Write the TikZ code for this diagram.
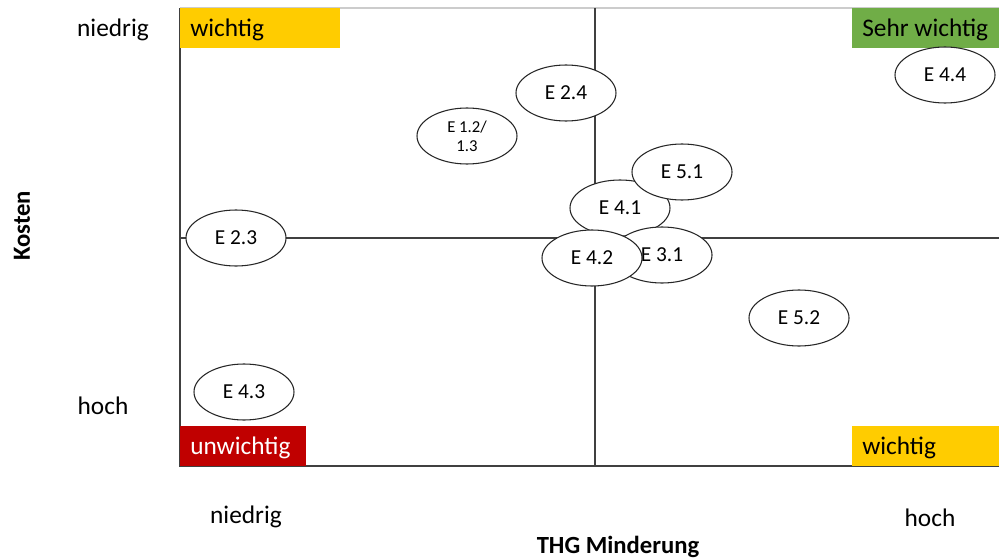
\documentclass[tikz,border=0pt]{standalone}
\usepackage{fontspec}
\setmainfont{Carlito}
\usetikzlibrary{shapes.geometric}
\definecolor{tagyellow}{HTML}{FFCC00}
\definecolor{taggreen}{HTML}{70AD47}
\definecolor{tagred}{HTML}{C00000}
\newcommand{\tagtext}[2]{\makebox[#1][l]{#2}}
\tikzset{
    measure/.style={
        ellipse,
        draw=black!85,
        line width=0.8pt,
        fill=white,
        minimum width=75pt,
        minimum height=42pt,
        inner sep=0pt,
        font=\fontsize{16}{18}\selectfont
    },
    tag/.style={
        anchor=north west,
        minimum height=30pt,
        inner xsep=7.5pt,
        inner ysep=0pt,
        text height=13pt,
        text depth=1pt,
        font=\fontsize{19}{22}\selectfont
    },
    axis line/.style={
        draw=black!75,
        line width=1pt
    },
    frame top/.style={
        draw=black!20,
        line width=1pt
    }
}

\begin{document}
\begin{tikzpicture}[x=0.75pt, y=-0.75pt,
                    label node/.style={font=\fontsize{19}{22}\selectfont},
                    title node/.style={font=\bfseries\fontsize{18.5}{21}\selectfont}]
                    \useasboundingbox (0,0) rectangle (999,560);
                    % frame and quadrant lines
                    \coordinate (tl) at (180,8);
                    \coordinate (tr) at (999,8);
                    \coordinate (bl) at (180,466);
                    \coordinate (br) at (999,466);
                    \coordinate (tm) at (595,8);
                    \coordinate (bm) at (595,466);
                    \coordinate (ml) at (180,238);
                    \coordinate (mr) at (999,238);
                    \draw[frame top] (tl) -- (tr);
                    \draw[axis line] (tl) -- (bl) -- (br);
                    \draw[axis line] (tm) -- (bm);
                    \draw[axis line] (ml) -- (mr);

                    % quadrant tags
                    \node[tag, fill=tagyellow] (qtl) at (180,8) {\tagtext{105pt}{wichtig}};
                    \node[tag, fill=taggreen] (qtr) at (852,8) {\tagtext{95pt}{Sehr wichtig}};
                    \node[tag, fill=tagred, text=white] (qbl) at (180,426) {\tagtext{79.5pt}{unwichtig}};
                    \node[tag, fill=tagyellow] (qbr) at (852,426) {\tagtext{95pt}{wichtig}};

                    % measures
                    \node[measure] (e24) at (566,93) {E 2.4};
                    \node[measure, align=center, font=\fontsize{12.5}{14.5}\selectfont] (e1213) at (467,136) {E 1.2/\\1.3};
                    \node[measure] (e44) at (945,75) {E 4.4};
                    \node[measure] (e23) at (236,238) {E 2.3};
                    \node[measure] (e41) at (620,208) {E 4.1};
                    \node[measure] (e51) at (682,172) {E 5.1};
                    \node[measure] (e31) at (662,255) {E 3.1};
                    \node[measure] (e42) at (592,258) {E 4.2};
                    \node[measure] (e52) at (799,318) {E 5.2};
                    \node[measure] (e43) at (244,392) {E 4.3};

                    % axis labels
                    \node[label node] (lylow) at (113,30) {niedrig};
                    \node[label node] (lyhigh) at (103,406) {hoch};
                    \node[label node] (lxlow) at (246,517) {niedrig};
                    \node[label node] (lxhigh) at (930,518) {hoch};
                    \node[title node] (xtitle) at (618,547) {THG Minderung};
                    \node[title node, rotate=90] (ytitle) at (22,226) {Kosten};
                \end{tikzpicture}
\end{document}
